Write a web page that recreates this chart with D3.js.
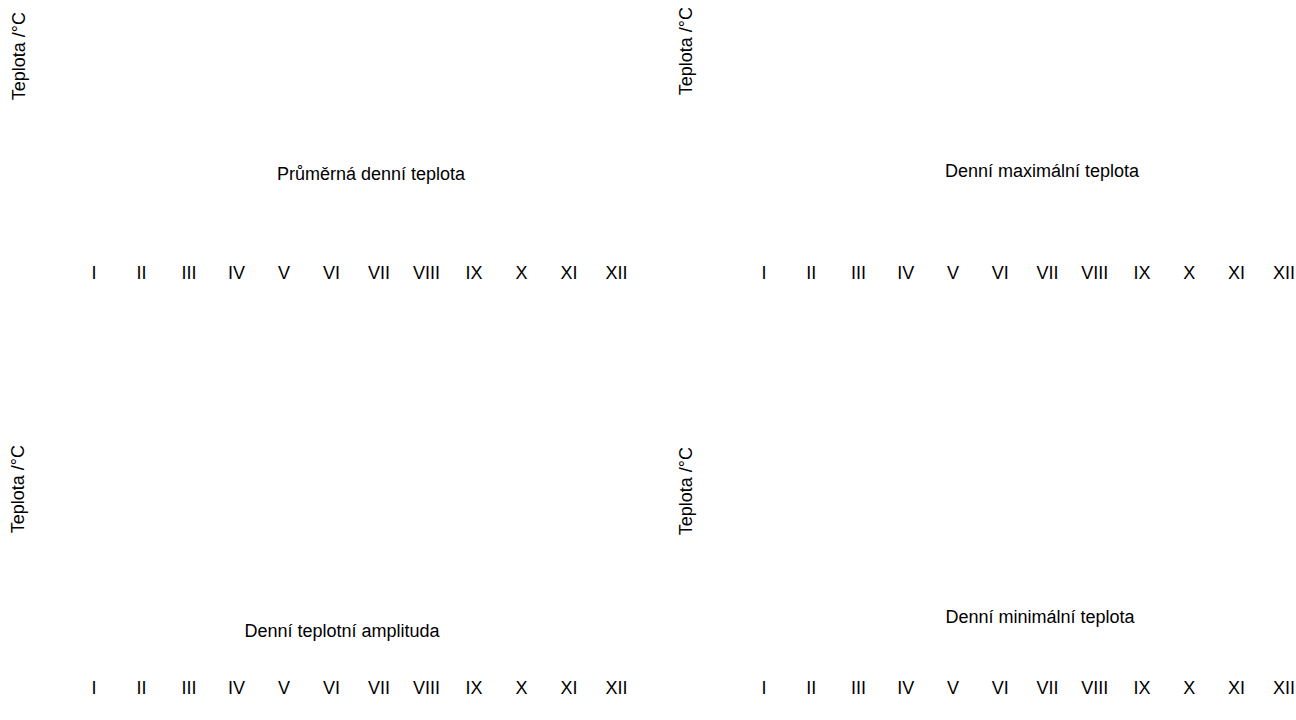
<!DOCTYPE html>
<html>
<head>
<meta charset="utf-8">
<script src="https://cdn.jsdelivr.net/npm/d3@7"></script>
<style>
  html, body { margin: 0; padding: 0; background: #fff; overflow: hidden; }
  svg { display: block; }
  text { font-family: "Liberation Sans", Arial, sans-serif; font-size: 18px; fill: #000; }
</style>
</head>
<body>
<svg id="chart" width="1296" height="720"></svg>
<script>
// ---- data ----
const months = ["I", "II", "III", "IV", "V", "VI", "VII", "VIII", "IX", "X", "XI", "XII"];
const panelTitles = ["Průměrná denní teplota", "Denní maximální teplota", "Denní teplotní amplituda", "Denní minimální teplota"];
const yAxisLabel = "Teplota /°C";
// the reference panels carry no data series (empty charts)
const seriesValues = [[], [], [], []];

// ---- layout ----
const layouts = [
  { x0: 70.25,  x1: 640.25,  yLabX: 25,  yLabEnd: 12,  titleX: 371,  titleY: 180, axisY: 266 },
  { x0: 740.25, x1: 1307.25, yLabX: 692, yLabEnd: 7,   titleX: 1042, titleY: 177, axisY: 266 },
  { x0: 70.25,  x1: 640.25,  yLabX: 24,  yLabEnd: 445, titleX: 342,  titleY: 637, axisY: 681 },
  { x0: 740.25, x1: 1307.25, yLabX: 692, yLabEnd: 447, titleX: 1040, titleY: 623, axisY: 681 }
];

const svg = d3.select("#chart");

layouts.forEach((L, i) => {
  const x = d3.scaleBand().domain(months).range([L.x0, L.x1]).padding(0);
  const y = d3.scaleLinear().domain([0, 1]).range([L.axisY, L.axisY - 200]);

  const g = svg.append("g");

  // x axis: only labels
  const ax = g.append("g")
    .attr("transform", `translate(0,${L.axisY})`)
    .call(d3.axisBottom(x).tickSize(0).tickPadding(0));
  ax.select(".domain").remove();
  ax.selectAll("text")
    .attr("font-family", "Liberation Sans, Arial, sans-serif")
    .attr("font-size", 18)
    .attr("fill", "#000");
  // keep the last label inside the page on the right-hand panels
  if (L.x1 > 1296) {
    ax.selectAll(".tick").filter(d => d === months[months.length - 1])
      .select("text").attr("text-anchor", "end").attr("x", 1295 - x(months[months.length - 1]) - x.bandwidth() / 2);
  }

  // (no series marks: data arrays are empty)
  g.selectAll("circle.pt")
    .data(seriesValues[i])
    .join("circle")
    .attr("class", "pt")
    .attr("cx", (d, j) => x(months[j]) + x.bandwidth() / 2)
    .attr("cy", d => y(d))
    .attr("r", 3);

  // y axis label
  g.append("text")
    .attr("transform", `translate(${L.yLabX},${L.yLabEnd}) rotate(-90)`)
    .attr("text-anchor", "end")
    .text(yAxisLabel);

  // title
  g.append("text")
    .attr("x", L.titleX)
    .attr("y", L.titleY)
    .attr("text-anchor", "middle")
    .text(panelTitles[i]);
});
</script>
</body>
</html>
